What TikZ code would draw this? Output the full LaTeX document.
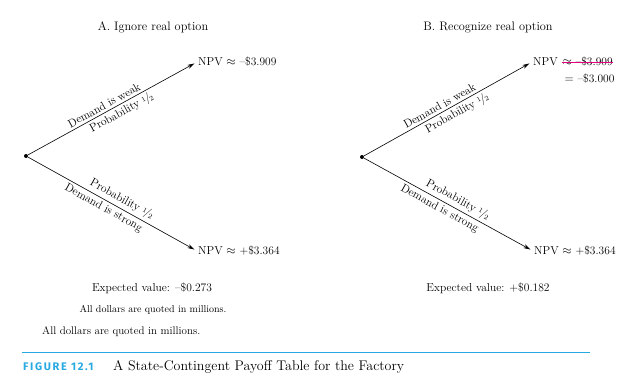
\documentclass[tikz,border=0pt]{standalone}
\usepackage{fontspec}
\newfontfamily\figfont{Fira Sans}[LetterSpace=15]
\usetikzlibrary{arrows.meta,positioning}
\definecolor{capblue}{HTML}{27A9E1}
\definecolor{strikemag}{HTML}{E4007C}
\newcommand\halfsym{\raisebox{0.45ex}{\fontsize{7}{8}\selectfont 1}\kern-0.08em/\kern-0.1em\raisebox{-0.15ex}{\fontsize{7}{8}\selectfont 2}}
\begin{document}
\begin{tikzpicture}[x=1pt,y=-1pt,
  every node/.style={font=\fontsize{11.5}{13}\selectfont, inner sep=1pt},
  dot/.style={circle,fill=black,inner sep=0pt,minimum size=4pt},
  branch/.style={line width=0.6pt,-{Stealth[length=7pt,width=4pt]},shorten >=3pt},
  lbl/.style={sloped,inner sep=2.5pt},
  npv/.style={anchor=west},
  titlefont/.style={font=\fontsize{12.3}{14}\selectfont},
  smallnote/.style={font=\fontsize{10}{12}\selectfont},
  ]
\useasboundingbox (0,0) rectangle (635,391);
% titles
\node[titlefont] (tA) at (153,27) {A. Ignore real option};
\node[titlefont] (tB) at (488,27) {B. Recognize real option};
% panel A
\node[dot] (rA) at (26,156) {};
\node[npv] (nA1) at (197,62) {NPV $\approx$ \textendash\$3.909};
\node[npv] (nA2) at (197,251) {NPV $\approx$ +\$3.364};
\draw[branch] (rA) -- (nA1.west)
  node[lbl,pos=0.47,above] (wA) {Demand is weak}
  node[lbl,pos=0.53,below] (pA1) {Probability \halfsym};
\draw[branch] (rA) -- (nA2.west)
  node[lbl,pos=0.53,above] (pA2) {Probability \halfsym}
  node[lbl,pos=0.47,below] (sA) {Demand is strong};
% panel B
\node[dot] (rB) at (362,157) {};
\node[npv] (nB1) at (532,62) {NPV};
\node[anchor=west,inner sep=0.5pt] (kB) at ([xshift=3pt]nB1.east) {$\approx$ \textendash\$3.909};
\draw[strikemag,line width=0.9pt] (kB.west) -- (kB.east);
\node[anchor=west,inner sep=0.5pt] (eB) at ([xshift=2pt,yshift=-17pt]kB.west) {$=$ \textendash\$3.000};
\node[npv] (nB2) at (533,251) {NPV $\approx$ +\$3.364};
\draw[branch] (rB) -- (nB1.west)
  node[lbl,pos=0.47,above] (wB) {Demand is weak}
  node[lbl,pos=0.53,below] (pB1) {Probability \halfsym};
\draw[branch] (rB) -- (nB2.west)
  node[lbl,pos=0.53,above] (pB2) {Probability \halfsym}
  node[lbl,pos=0.47,below] (sB) {Demand is strong};
% bottom texts
\node (evA) at (152,288) {Expected value: \textendash\$0.273};
\node (evB) at (488,288) {Expected value: +\$0.182};
\node[smallnote] (noteA) at (153,310) {All dollars are quoted in millions.};
\node[anchor=west,font=\fontsize{11}{13}\selectfont] (noteB) at (41,332) {All dollars are quoted in millions.};
% caption
\coordinate (lineL) at (22,352);
\coordinate (lineR) at (590,352);
\draw[capblue,line width=0.9pt] (lineL) -- (lineR);
\node[anchor=base west,inner sep=0pt,text=capblue,font=\figfont\bfseries\fontsize{11}{13}\selectfont] (fig) at (23,370.7) {FIGURE 12.1};
\node[anchor=base west,inner sep=0pt,font=\fontsize{14}{16}\selectfont] (cap) at (113,370.7) {A State-Contingent Payoff Table for the Factory};
\end{tikzpicture}
\end{document}
